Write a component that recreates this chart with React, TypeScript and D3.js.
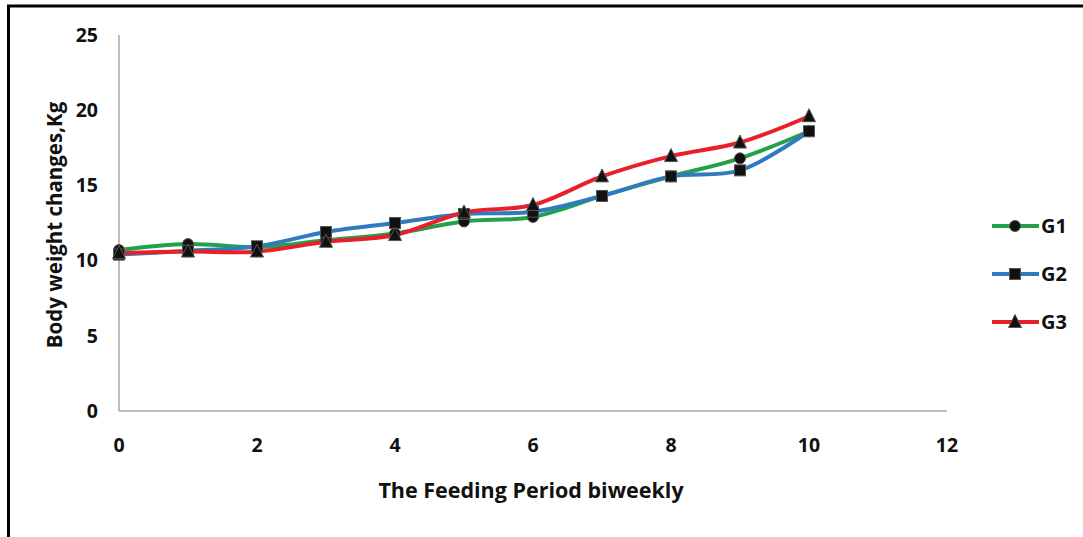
import React from "react";
import * as d3 from "d3";

const periods = [0, 1, 2, 3, 4, 5, 6, 7, 8, 9, 10];
const g1 = [10.7, 11.1, 10.9, 11.35, 11.8, 12.6, 12.9, 14.3, 15.6, 16.8, 18.6];
const g2 = [10.4, 10.65, 10.95, 11.9, 12.5, 13.1, 13.25, 14.3, 15.6, 16.0, 18.6];
const g3 = [10.5, 10.6, 10.6, 11.25, 11.7, 13.2, 13.7, 15.6, 16.95, 17.85, 19.6];
const seriesNames = ["G1", "G2", "G3"];
const seriesColors = ["#23a04a", "#2e7bbf", "#e8202a"];
const xTicks = [0, 2, 4, 6, 8, 10, 12];
const yTicks = [0, 5, 10, 15, 20, 25];

const FONT = "'Open Sans', Lato, sans-serif";

function Marker({ kind, x, y }: { kind: number; x: number; y: number }) {
  if (kind === 0) return <circle cx={x} cy={y} r={5.5} fill="#111" stroke="#555" strokeWidth={1} />;
  if (kind === 1) return <rect x={x - 5.5} y={y - 5.5} width={11} height={11} fill="#111" stroke="#555" strokeWidth={1} />;
  return <path d={`M${x},${y - 7.5}L${x + 6.5},${y + 5.5}L${x - 6.5},${y + 5.5}Z`} fill="#111" stroke="#555" strokeWidth={1} />;
}

export default function App() {
  const W = 1083, H = 537;
  const x = d3.scaleLinear().domain([0, 12]).range([119, 947]);
  const y = d3.scaleLinear().domain([0, 25]).range([411, 35]);
  const data = [g1, g2, g3];
  const line = d3
    .line<number>()
    .x((_, i) => x(periods[i]))
    .y((d) => y(d))
    .curve(d3.curveCatmullRom.alpha(0.5));
  const legendY = [226, 274, 322];
  return (
    <svg width={W} height={H} style={{ position: "absolute", left: 0, top: 0, background: "#fff" }}>
      <rect x={0} y={0} width={W} height={H} fill="#fff" />
      <line x1={8.5} y1={6} x2={8.5} y2={H} stroke="#000" strokeWidth={3} />
      <line x1={7} y1={6} x2={W} y2={6} stroke="#000" strokeWidth={3} />
      <line x1={x(0)} y1={y(25)} x2={x(0)} y2={y(0)} stroke="#a6a6a6" strokeWidth={1.5} />
      <line x1={x(0)} y1={y(0)} x2={x(12)} y2={y(0)} stroke="#a6a6a6" strokeWidth={1.5} />
      {yTicks.map((t) => (
        <text key={t} x={98} y={y(t)} dy="0.35em" textAnchor="end" fontFamily={FONT} fontWeight="bold" fontSize={19.5} fill="#111">
          {t}
        </text>
      ))}
      {xTicks.map((t) => (
        <text key={t} x={x(t)} y={445} dy="0.35em" textAnchor="middle" fontFamily={FONT} fontWeight="bold" fontSize={19.5} fill="#111">
          {t}
        </text>
      ))}
      <text x={531} y={490} dy="0.35em" textAnchor="middle" fontFamily={FONT} fontWeight="bold" fontSize={21.5} fill="#111">
        The Feeding Period biweekly
      </text>
      <text transform={`translate(55,225) rotate(-90)`} dy="0.35em" textAnchor="middle" fontFamily={FONT} fontWeight="bold" fontSize={20.5} fill="#111">
        Body weight changes,Kg
      </text>
      {data.map((s, si) => (
        <path key={si} d={line(s) || ""} fill="none" stroke={seriesColors[si]} strokeWidth={4} strokeLinejoin="round" />
      ))}
      {data.map((s, si) => s.map((v, i) => <Marker key={`${si}-${i}`} kind={si} x={x(periods[i])} y={y(v)} />))}
      {seriesNames.map((n, si) => (
        <g key={n}>
          <line x1={992} x2={1039} y1={legendY[si]} y2={legendY[si]} stroke={seriesColors[si]} strokeWidth={4} />
          <Marker kind={si} x={1015} y={legendY[si]} />
          <text x={1041} y={legendY[si]} dy="0.35em" fontFamily={FONT} fontWeight="bold" fontSize={20} fill="#111">
            {n}
          </text>
        </g>
      ))}
    </svg>
  );
}
